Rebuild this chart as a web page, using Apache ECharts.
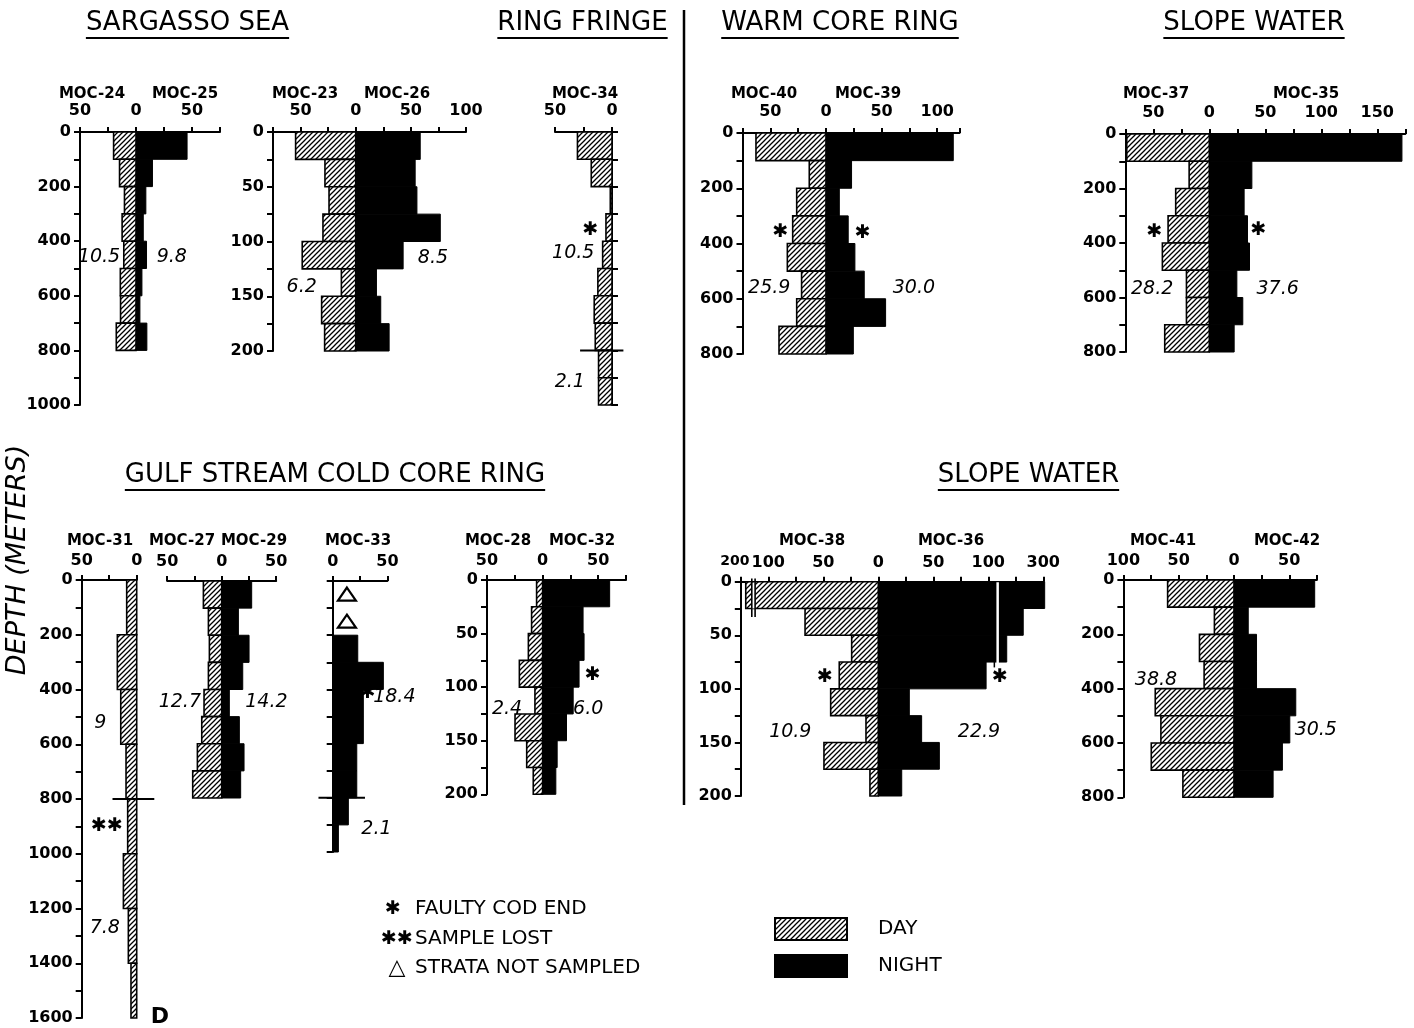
<!DOCTYPE html>
<html>
<head>
<meta charset="utf-8">
<title>Day / night abundance by depth stratum</title>
<script src="https://cdn.jsdelivr.net/npm/echarts@6/dist/echarts.min.js"></script>
<style>
  html, body { margin: 0; padding: 0; background: #fff; }
  #chart { width: 1414px; height: 1028px; }
</style>
</head>
<body>
<div id="chart"></div>
<script>
// ---------------------------------------------------------------------------
// Depth strata (top of each net interval, metres)
const strata100 = [0, 100, 200, 300, 400, 500, 600, 700];
const strata100x10 = [0, 100, 200, 300, 400, 500, 600, 700, 800, 900];
const strata25 = [0, 25, 50, 75, 100, 125, 150, 175];
const strata200 = [0, 200, 400, 600, 800, 1000, 1200, 1400];

// Abundance per stratum — day tows (hatched, left) and night tows (black, right)
const moc24Day   = [20, 14.7, 10.3, 12.4, 10.9, 14, 13.8, 17.6];
const moc25Night = [45.6, 14.7, 8.8, 6.5, 9.4, 5.3, 3.5, 9.7];
const moc23Day   = [54.5, 27.9, 24.2, 29.7, 48.5, 13, 30.9, 28.2];
const moc26Night = [58.5, 53.9, 55.5, 76.7, 43, 18.8, 22.7, 30.3];
const moc34Day   = [30.3, 18.2, 1.5, 5.3, 8.2, 12.4, 15.6, 14.7, 11.8, 11.8];
const moc40Day   = [62.9, 15, 26.3, 29.9, 34.7, 21.9, 26.3, 42.2];
const moc39Night = [114.4, 23, 12, 20, 26, 34.4, 53.6, 24.6];
const moc37Day   = [73.7, 18, 30, 36.8, 41.9, 20.4, 20.4, 39.8];
const moc35Night = [172, 38, 31.1, 34.1, 35.9, 24.6, 29.9, 22.2];
const moc31Day   = [9.1, 17.6, 14.5, 9.7, 8.2, 12.1, 7.6, 5.2];
const moc27Day   = [16.8, 12.2, 11.3, 12.2, 16.2, 18.3, 22.3, 26.6];
const moc29Night = [27.5, 15.3, 25.1, 19.3, 7, 16.2, 20.5, 17.4];
const moc33Night = [null, null, 22.9, 46.3, 28, 28, 22, 22, 14.3, 5.2];
const moc28Day   = [5.4, 9.9, 12.8, 20.9, 6.9, 24.8, 14.3, 8.4];
const moc32Night = [60.3, 36.4, 37.3, 32.8, 27.5, 21.5, 13.1, 11.9];
const moc38Day   = [182, 66.6, 24.2, 35.5, 43.3, 11.2, 49.4, 7.6];
const moc36Night = [305, 227, 167, 98, 28.2, 39.4, 55.5, 21.3];
const moc41Day   = [60, 17.7, 31.2, 27, 71.2, 66.1, 74.8, 46.2];
const moc42Night = [73, 12.9, 20.4, 20.4, 55.9, 50.5, 43.8, 35.4];

// Labelled ticks on the abundance axes (negative = day side)
const ticksA = [-50, 0, 50];
const ticksB = [-50, 0, 50, 100];
const ticksC = [-50, 0];
const ticksD = [-50, 0, 50, 100, 150];
const ticksE = [0, 50];
const ticksF = [-100, -50, 0, 50, 100, 300];
const ticksG = [-100, -50, 0, 50];

// Notes inside panels (value, depth): integrated totals, cod-end marks, cuts
const notesSargasso1 = [{ x: -33, d: 458, text: '10.5' }, { x: 32, d: 458, text: '9.8' }];
const notesSargasso2 = [{ x: 70, d: 115, text: '8.5' }, { x: -49, d: 142, text: '6.2' }];
const notesFringe = [
  { x: -19, d: 359, kind: 'star', text: '✱' },
  { x: -34, d: 443, text: '10.5' },
  { x: -37, d: 916, text: '2.1' },
  { x: [-28, 10], d: 800, kind: 'cut' }
];
const notesWarm = [
  { x: -41, d: 359, kind: 'star', text: '✱' }, { x: 33, d: 362, kind: 'star', text: '✱' },
  { x: -51, d: 562, text: '25.9' }, { x: 79, d: 562, text: '30.0' }
];
const notesSlope1 = [
  { x: -49, d: 360, kind: 'star', text: '✱' }, { x: 44, d: 352, kind: 'star', text: '✱' },
  { x: -51, d: 569, text: '28.2' }, { x: 61, d: 569, text: '37.6' }
];
const notesCold31 = [
  { x: -33, d: 523, text: '9' },
  { x: -27, d: 899, kind: 'star', text: '✱✱' },
  { x: -29, d: 1272, text: '7.8' },
  { x: 21, d: 1597, kind: 'mark', text: 'D' },
  { x: [-22, 16], d: 800, kind: 'cut' }
];
const notesCold27 = [{ x: -19, d: 448, text: '12.7', align: 'right' }, { x: 41, d: 448, text: '14.2' }];
const notesCold33 = [
  { x: 13, d: 50, kind: 'tri' }, { x: 13, d: 150, kind: 'tri' },
  { x: 32, d: 415, kind: 'star', text: '✱' },
  { x: 37, d: 430, text: '18.4', align: 'left' },
  { x: 40, d: 915, text: '2.1' },
  { x: [-13, 29.5], d: 800, kind: 'cut' }
];
const notesCold28 = [{ x: 45, d: 89, kind: 'star', text: '✱' }, { x: -32, d: 120, text: '2.4' }, { x: 41, d: 120, text: '6.0' }];
const notesSlope2 = [
  { x: -200, d: 0, kind: 'axisText', text: '200' },
  { x: -48.6, d: 89, kind: 'star', text: '✱' }, { x: 142, d: 89, kind: 'star', text: '✱' },
  { x: -80, d: 140, text: '10.9' }, { x: 91.5, d: 140, text: '22.9' },
  { x: [-160, -148], d: [0, 25], ext: [-3, 33], kind: 'gapDay' },
  { x: 134, d: [0.5, 76], kind: 'gapNight' },
  { x: 122, d: [0, 80], kind: 'rule' }
];
const notesSlope3 = [{ x: -70.5, d: 368, text: '38.8' }, { x: 74, d: 552, text: '30.5' }];

// ---------------------------------------------------------------------------
const FONT = "'DejaVu Sans', sans-serif";
const linear = v => v;
// MOC-38/36 axis is broken above 100: the outer part is compressed four-fold
const broken = v => (v <= 100 ? v : 100 + (v - 100) / 4);
const brokenInv = t => (t <= 100 ? t : 100 + (t - 100) * 4);

// Diagonal hatch used for day tows
const hatch = (() => {
  const c = document.createElement('canvas');
  c.width = 5; c.height = 5;
  const g = c.getContext('2d');
  g.fillStyle = '#fff'; g.fillRect(0, 0, 5, 5);
  g.strokeStyle = '#000'; g.lineWidth = 1.3;
  g.beginPath();
  g.moveTo(-1, 6); g.lineTo(6, -1);
  g.moveTo(-1, 1); g.lineTo(1, -1);
  g.moveTo(4, 6); g.lineTo(6, 4);
  g.stroke();
  return { image: c, repeat: 'repeat' };
})();

const panels = [
  { grid: { left: 80, top: 132, width: 140, height: 273 }, x: [-50, 75], ticks: ticksA, depth: [0, 1000], dStep: 100, dLabel: 200,
    strata: strata100, step: 100, day: moc24Day, night: moc25Night, notes: notesSargasso1, row: 0 },
  { grid: { left: 273, top: 132, width: 193, height: 219 }, x: [-75, 100], ticks: ticksB, depth: [0, 200], dStep: 25, dLabel: 50,
    strata: strata25, step: 25, day: moc23Day, night: moc26Night, notes: notesSargasso2, row: 0 },
  { grid: { left: 555, top: 132, width: 57, height: 273 }, x: [-50, 0], ticks: ticksC, depth: [0, 1000], dStep: 100, dLabel: 0, yPos: 'right',
    strata: strata100x10, step: 100, day: moc34Day, night: null, notes: notesFringe, row: 0 },
  { grid: { left: 742.5, top: 133, width: 217, height: 221 }, x: [-75, 120], ticks: ticksB, depth: [0, 800], dStep: 100, dLabel: 200,
    strata: strata100, step: 100, day: moc40Day, night: moc39Night, notes: notesWarm, row: 0 },
  { grid: { left: 1125.3, top: 134, width: 280, height: 218 }, x: [-75, 175], ticks: ticksD, depth: [0, 800], dStep: 100, dLabel: 200,
    strata: strata100, step: 100, day: moc37Day, night: moc35Night, notes: notesSlope1, row: 0 },
  { grid: { left: 81.7, top: 580, width: 55, height: 438 }, x: [-50, 0], ticks: ticksC, depth: [0, 1600], dStep: 100, dLabel: 200,
    strata: strata200, step: 200, day: moc31Day, night: null, notes: notesCold31, row: 1 },
  { grid: { left: 167.2, top: 581, width: 109, height: 217 }, x: [-50, 50], ticks: ticksA, depth: [0, 800], dStep: 100, dLabel: 0, yPos: 'none',
    strata: strata100, step: 100, day: moc27Day, night: moc29Night, notes: notesCold27, row: 1 },
  { grid: { left: 332.7, top: 581, width: 54.7, height: 271 }, x: [0, 50], ticks: ticksE, depth: [0, 1000], dStep: 100, dLabel: 0,
    strata: strata100x10, step: 100, day: null, night: moc33Night, notes: notesCold33, row: 1 },
  { grid: { left: 487, top: 580, width: 139, height: 214.3 }, x: [-50, 75], ticks: ticksA, depth: [0, 200], dStep: 25, dLabel: 50,
    strata: strata25, step: 25, day: moc28Day, night: moc32Night, notes: notesCold28, row: 1 },
  { grid: { left: 740.8, top: 581.7, width: 302.5, height: 214.3 }, x: [-125, 150], ticks: ticksF, depth: [0, 200], dStep: 25, dLabel: 50,
    strata: strata25, step: 25, day: moc38Day, night: moc36Night, notes: notesSlope2, row: 1, tf: broken, tfInv: brokenInv },
  { grid: { left: 1123.4, top: 580, width: 193.5, height: 217.3 }, x: [-100, 75], ticks: ticksG, depth: [0, 800], dStep: 100, dLabel: 200,
    strata: strata100, step: 100, day: moc41Day, night: moc42Night, notes: notesSlope3, row: 1 }
];

// Haul labels above each panel
const hauls = [
  { text: 'MOC-24', x: 92, row: 0 }, { text: 'MOC-25', x: 185, row: 0 },
  { text: 'MOC-23', x: 305, row: 0 }, { text: 'MOC-26', x: 397, row: 0 },
  { text: 'MOC-34', x: 585, row: 0 },
  { text: 'MOC-40', x: 764, row: 0 }, { text: 'MOC-39', x: 868, row: 0 },
  { text: 'MOC-37', x: 1156, row: 0 }, { text: 'MOC-35', x: 1306, row: 0 },
  { text: 'MOC-31', x: 100, row: 1 }, { text: 'MOC-27', x: 182, row: 1 }, { text: 'MOC-29', x: 254, row: 1 },
  { text: 'MOC-33', x: 358, row: 1 }, { text: 'MOC-28', x: 498, row: 1 }, { text: 'MOC-32', x: 582, row: 1 },
  { text: 'MOC-38', x: 812, row: 1 }, { text: 'MOC-36', x: 951, row: 1 },
  { text: 'MOC-41', x: 1163, row: 1 }, { text: 'MOC-42', x: 1287, row: 1 }
];
const haulRowY = [94, 541];

// Water-mass headings
const headings = [
  { text: 'SARGASSO SEA', cx: 187.5, y: 23 },
  { text: 'RING FRINGE', cx: 582.5, y: 23 },
  { text: 'WARM CORE RING', cx: 840, y: 23 },
  { text: 'SLOPE WATER', cx: 1254, y: 23 },
  { text: 'GULF STREAM COLD CORE RING', cx: 335, y: 475 },
  { text: 'SLOPE WATER', cx: 1028.5, y: 475 }
];

// ---------------------------------------------------------------------------
function barRender(tf) {
  return (params, api) => {
    const top = api.value(0), bot = api.value(1), v = api.value(2), side = api.value(3);
    const a = api.coord([0, top]);
    const b = api.coord([side * tf(v), bot]);
    return {
      type: 'rect',
      shape: { x: Math.min(a[0], b[0]), y: a[1], width: Math.abs(b[0] - a[0]), height: b[1] - a[1] },
      style: side < 0
        ? { fill: hatch, stroke: '#000', lineWidth: 1.6 }
        : { fill: '#000', stroke: '#000', lineWidth: 1 }
    };
  };
}

function noteRender(notes, tf) {
  const sx = v => Math.sign(v) * tf(Math.abs(v));
  return (params, api) => {
    const n = notes[params.dataIndex];
    const kind = n.kind || 'num';
    if (kind === 'cut') {
      const a = api.coord([sx(n.x[0]), n.d]), b = api.coord([sx(n.x[1]), n.d]);
      return { type: 'line', shape: { x1: a[0], y1: a[1], x2: b[0], y2: b[1] }, style: { stroke: '#000', lineWidth: 2 } };
    }
    if (kind === 'gapDay') {
      const a = api.coord([sx(n.x[0]), n.d[0]]), b = api.coord([sx(n.x[1]), n.d[1]]);
      const e0 = api.coord([0, n.ext[0]])[1], e1 = api.coord([0, n.ext[1]])[1];
      return {
        type: 'group',
        children: [
          { type: 'rect', shape: { x: a[0], y: a[1] + 1, width: b[0] - a[0], height: b[1] - a[1] - 1 }, style: { fill: '#fff' } },
          { type: 'line', shape: { x1: a[0], y1: e0, x2: a[0], y2: e1 }, style: { stroke: '#000', lineWidth: 1.6 } },
          { type: 'line', shape: { x1: b[0], y1: e0, x2: b[0], y2: e1 }, style: { stroke: '#000', lineWidth: 1.6 } }
        ]
      };
    }
    if (kind === 'gapNight' || kind === 'rule') {
      const a = api.coord([sx(n.x), n.d[0]]), b = api.coord([sx(n.x), n.d[1]]);
      return {
        type: 'line', shape: { x1: a[0], y1: a[1], x2: b[0], y2: b[1] },
        style: kind === 'gapNight' ? { stroke: '#fff', lineWidth: 2.5 } : { stroke: '#000', lineWidth: 1.5 }
      };
    }
    const p = api.coord([sx(n.x), n.d]);
    if (kind === 'tri') {
      return {
        type: 'polygon',
        shape: { points: [[p[0], p[1] - 7], [p[0] + 9, p[1] + 6], [p[0] - 9, p[1] + 6]] },
        style: { fill: '#fff', stroke: '#000', lineWidth: 2.2, lineJoin: 'miter' }
      };
    }
    if (kind === 'axisText') {
      // outer end of the broken scale, set just left of its tick beside the "100"
      return { type: 'text', style: { text: n.text, x: p[0] - 6, y: p[1] - 20, align: 'center', verticalAlign: 'middle',
        fontFamily: FONT, fontWeight: 'bold', fontSize: 14, fill: '#000' } };
    }
    const style = { text: n.text, x: p[0], y: p[1], fill: '#000', align: n.align || 'center', verticalAlign: 'middle', fontFamily: FONT };
    if (kind === 'star') { style.fontSize = 19; style.fontWeight = 'bold'; }
    else if (kind === 'mark') { style.fontSize = 22; style.fontWeight = 'bold'; }
    else { style.fontSize = 19; style.fontStyle = 'italic'; }
    return { type: 'text', style };
  };
}

const grids = [], xAxes = [], yAxes = [], series = [];
panels.forEach((p, i) => {
  const tf = p.tf || linear;
  const inv = p.tfInv || linear;
  grids.push(Object.assign({ containLabel: false, outerBoundsMode: 'none' }, p.grid));
  xAxes.push({
    type: 'value', gridIndex: i, position: 'top', min: p.x[0], max: p.x[1], interval: 25,
    axisLine: { show: true, onZero: false, lineStyle: { color: '#000', width: 2 } },
    axisTick: { show: true, inside: false, length: 5, lineStyle: { color: '#000', width: 2 } },
    splitLine: { show: false },
    axisLabel: {
      show: true, margin: p.row === 0 ? 13 : 11, color: '#000', fontFamily: FONT, fontWeight: 'bold', fontSize: 16,
      showMinLabel: true, showMaxLabel: true, hideOverlap: false,
      formatter: v => {
        const raw = Math.sign(v) * inv(Math.abs(v));
        return p.ticks.some(t => Math.abs(t - raw) < 0.01) ? String(Math.abs(Math.round(raw))) : '';
      }
    }
  });
  const yPos = p.yPos || 'left';
  yAxes.push({
    type: 'value', gridIndex: i, inverse: true, position: yPos === 'none' ? 'left' : yPos,
    show: yPos !== 'none', min: p.depth[0], max: p.depth[1], interval: p.dStep,
    axisLine: { show: true, onZero: false, lineStyle: { color: '#000', width: 2 } },
    axisTick: { show: true, inside: false, length: 6, lineStyle: { color: '#000', width: 2 } },
    splitLine: { show: false },
    axisLabel: {
      show: !!p.dLabel, margin: 9, color: '#000', fontFamily: FONT, fontWeight: 'bold', fontSize: 16,
      showMinLabel: true, showMaxLabel: true, hideOverlap: false,
      formatter: v => (p.dLabel && v % p.dLabel === 0 ? String(v) : '')
    }
  });
  const rows = [];
  p.strata.forEach((top, k) => {
    if (p.night && p.night[k] != null) rows.push([top, top + p.step, p.night[k], 1]);
    if (p.day && p.day[k] != null) rows.push([top, top + p.step, p.day[k], -1]);
  });
  series.push({
    type: 'custom', xAxisIndex: i, yAxisIndex: i, clip: false, z: 2,
    renderItem: barRender(tf), data: rows, silent: true
  });
  series.push({
    type: 'custom', xAxisIndex: i, yAxisIndex: i, clip: false, z: 4,
    renderItem: noteRender(p.notes, tf), silent: true,
    data: p.notes.map(n => [Array.isArray(n.x) ? n.x[0] : n.x, Array.isArray(n.d) ? n.d[0] : n.d])
  });
});

// Text measuring for heading underlines
const measureCtx = document.createElement('canvas').getContext('2d');
function textWidth(text, font) { measureCtx.font = font; return measureCtx.measureText(text).width; }

const graphic = [];
const headFont = "26px 'DejaVu Sans'";
headings.forEach(h => {
  const w = textWidth(h.text, headFont);
  graphic.push({ type: 'text', style: { text: h.text, x: h.cx, y: h.y, align: 'center', verticalAlign: 'middle', font: headFont, fill: '#000' } });
  graphic.push({ type: 'line', shape: { x1: h.cx - w / 2, y1: h.y + 15, x2: h.cx + w / 2, y2: h.y + 15 }, style: { stroke: '#000', lineWidth: 2 } });
});
hauls.forEach(h => {
  graphic.push({ type: 'text', style: { text: h.text, x: h.x, y: haulRowY[h.row], align: 'center', verticalAlign: 'middle',
    font: "bold 15px 'DejaVu Sans'", fill: '#000' } });
});
// Divider between the two water-mass groups
graphic.push({ type: 'line', shape: { x1: 684, y1: 10, x2: 684, y2: 805 }, style: { stroke: '#000', lineWidth: 2.5 } });
// Shared depth title
graphic.push({ type: 'text', rotation: Math.PI / 2, x: 18, y: 560,
  style: { text: 'DEPTH (METERS)', x: 0, y: 0, align: 'center', verticalAlign: 'middle', font: "italic 27px 'DejaVu Sans'", fill: '#000' } });

// Key
const keyFont = "20px 'DejaVu Sans'";
const starFont = "bold 19px 'DejaVu Sans'";
graphic.push({ type: 'text', style: { text: '✱', x: 393, y: 909, align: 'center', verticalAlign: 'middle', font: starFont, fill: '#000' } });
graphic.push({ type: 'text', style: { text: 'FAULTY COD END', x: 415, y: 909, verticalAlign: 'middle', font: keyFont, fill: '#000' } });
graphic.push({ type: 'text', style: { text: '✱✱', x: 397, y: 939, align: 'center', verticalAlign: 'middle', font: starFont, fill: '#000' } });
graphic.push({ type: 'text', style: { text: 'SAMPLE LOST', x: 415, y: 939, verticalAlign: 'middle', font: keyFont, fill: '#000' } });
graphic.push({ type: 'text', style: { text: '△', x: 397, y: 968, align: 'center', verticalAlign: 'middle', font: "bold 22px 'DejaVu Sans'", fill: '#000' } });
graphic.push({ type: 'text', style: { text: 'STRATA NOT SAMPLED', x: 415, y: 968, verticalAlign: 'middle', font: keyFont, fill: '#000' } });
graphic.push({ type: 'rect', shape: { x: 775, y: 918, width: 72, height: 22 }, style: { fill: hatch, stroke: '#000', lineWidth: 2 } });
graphic.push({ type: 'text', style: { text: 'DAY', x: 878, y: 929, verticalAlign: 'middle', font: keyFont, fill: '#000' } });
graphic.push({ type: 'rect', shape: { x: 775, y: 955, width: 72, height: 22 }, style: { fill: '#000', stroke: '#000', lineWidth: 2 } });
graphic.push({ type: 'text', style: { text: 'NIGHT', x: 878, y: 966, verticalAlign: 'middle', font: keyFont, fill: '#000' } });

const chart = echarts.init(document.getElementById('chart'), null, { renderer: 'canvas' });
chart.setOption({
  backgroundColor: '#fff',
  animation: false,
  grid: grids,
  xAxis: xAxes,
  yAxis: yAxes,
  series: series,
  graphic: { elements: graphic }
});
</script>
</body>
</html>
